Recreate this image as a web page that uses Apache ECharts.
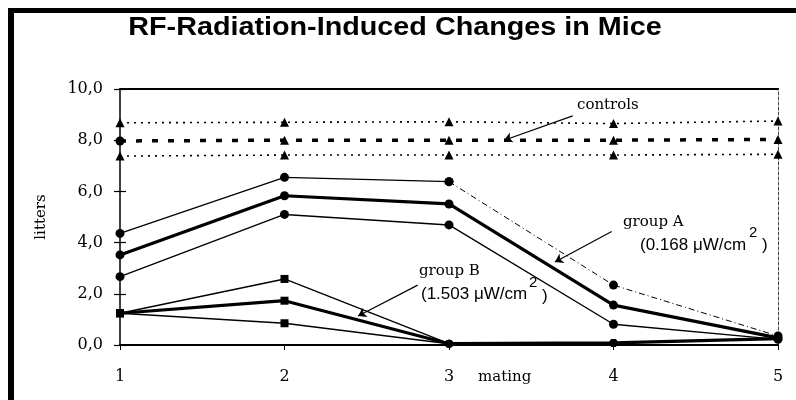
<!DOCTYPE html>
<html>
<head>
<meta charset="utf-8">
<script src="https://cdn.jsdelivr.net/npm/echarts@6/dist/echarts.min.js"></script>
<style>
  html, body { margin: 0; padding: 0; background: #fff; }
  #chart { width: 796px; height: 400px; }
</style>
</head>
<body>
<div id="chart"></div>
<script>
// Mating rounds (x axis)
const matings = [1, 2, 3, 4, 5];

// Control litters: upper bound, mean, lower bound
const controlUpper = [8.68, 8.70, 8.72, 8.65, 8.75];
const controlMean  = [7.97, 8.00, 8.00, 8.00, 8.03];
const controlLower = [7.38, 7.42, 7.42, 7.42, 7.45];

// Group A (0.168 µW/cm²): upper bound, mean, lower bound
const groupAUpper = [4.36, 6.55, 6.38, 2.34, 0.35];
const groupAMean  = [3.52, 5.83, 5.51, 1.56, 0.28];
const groupALower = [2.67, 5.10, 4.69, 0.81, 0.22];

// Group B (1.503 µW/cm²): upper bound, mean, lower bound
const groupBUpper = [1.24, 2.58, 0.05, 0.08, 0.25];
const groupBMean  = [1.24, 1.73, 0.05, 0.08, 0.25];
const groupBLower = [1.24, 0.85, 0.05, 0.08, 0.25];

const SERIF = '"DejaVu Serif", "Liberation Serif", serif';
const SANS = '"Liberation Sans", Arial, sans-serif';
const INK = '#000';

const pairs = vals => vals.map((v, i) => [matings[i], v]);
// keep only the points between two indices (inclusive) for split line styles
const slice = (vals, from, to) => vals.map((v, i) => (i >= from && i <= to) ? [matings[i], v] : [matings[i], null]);
// group B uses squares for the first two matings, dots afterwards
const bPoints = vals => vals.map((v, i) => ({ value: [matings[i], v], symbol: i < 2 ? 'rect' : 'circle' }));
// control mean starts with a dot, then triangles
const meanPoints = vals => vals.map((v, i) => ({ value: [matings[i], v], symbol: i === 0 ? 'circle' : 'triangle' }));

function line(name, data, width, type, symbol, size) {
  return {
    name, type: 'line', data,
    xAxisIndex: 0, yAxisIndex: 0,
    symbol, symbolSize: size, showSymbol: symbol !== 'none',
    connectNulls: false,
    lineStyle: { color: INK, width, type },
    itemStyle: { color: INK },
    z: 3,
    silent: true
  };
}

const arrowLine = (from, to) => [
  { coord: from, symbol: 'none' },
  { coord: to, symbol: 'arrow', symbolSize: 8 }
];

const label = (text, x, y, font, align) => ({
  type: 'text', x, y, silent: true,
  style: {
    text, font, fill: INK,
    textAlign: align || 'left', align: align || 'left',
    textVerticalAlign: 'middle', verticalAlign: 'middle'
  }
});

const chart = echarts.init(document.getElementById('chart'), null, { renderer: 'canvas' });

const option = {
  animation: false,
  backgroundColor: '#fff',
  grid: { left: 120, right: 18, top: 89, bottom: 55 },
  xAxis: [
    {
      type: 'value', min: 1, max: 5, interval: 1, position: 'bottom',
      axisLine: { show: true, onZero: false, lineStyle: { color: INK, width: 2 } },
      axisTick: { show: true, length: 5, lineStyle: { color: INK, width: 1 } },
      axisLabel: { color: INK, fontFamily: SERIF, fontSize: 16, margin: 24 },
      splitLine: { show: false }
    },
    {
      type: 'value', min: 1, max: 5, interval: 1, position: 'top',
      axisLine: { show: true, onZero: false, lineStyle: { color: INK, width: 2 } },
      axisTick: { show: false }, axisLabel: { show: false }, splitLine: { show: false }
    }
  ],
  yAxis: [
    {
      type: 'value', min: 0, max: 10, interval: 2, position: 'left',
      axisLine: { show: true, onZero: false, lineStyle: { color: INK, width: 1.5 } },
      axisTick: { show: true, length: 6, lineStyle: { color: INK, width: 1.2 } },
      axisLabel: {
        color: INK, fontFamily: SERIF, fontSize: 16, margin: 17,
        formatter: v => v.toFixed(1).replace('.', ',')
      },
      splitLine: { show: false }
    },
    {
      type: 'value', min: 0, max: 10, interval: 2, position: 'left',
      axisLine: { show: false },
      axisTick: { show: true, inside: true, length: 6, lineStyle: { color: INK, width: 1.2 } },
      axisLabel: { show: false }, splitLine: { show: false }
    },
    {
      type: 'value', min: 0, max: 10, interval: 2, position: 'right',
      axisLine: { show: true, onZero: false, lineStyle: { color: '#444', width: 1, type: [3, 2] } },
      axisTick: { show: false }, axisLabel: { show: false }, splitLine: { show: false }
    }
  ],
  series: [
    line('controls upper', pairs(controlUpper), 1.6, [2, 5], 'triangle', 9),
    Object.assign(line('controls', meanPoints(controlMean), 3.5, [6, 10], 'triangle', 9), {
      markLine: {
        silent: true,
        animation: false,
        symbolSize: 8,
        label: { show: false },
        lineStyle: { color: INK, width: 1.2, type: 'solid' },
        emphasis: { disabled: true },
        data: [
          arrowLine([3.752, 8.95], [3.335, 8.0]),
          arrowLine([3.989, 4.43], [3.644, 3.24]),
          arrowLine([2.810, 2.34], [2.447, 1.13])
        ]
      }
    }),
    line('controls lower', pairs(controlLower), 1.6, [2, 5], 'triangle', 9),

    line('group A upper', slice(groupAUpper, 0, 2), 1.3, 'solid', 'circle', 9),
    line('group A upper (late)', slice(groupAUpper, 2, 4), 1, [6, 3, 1, 3], 'circle', 9),
    line('group A', pairs(groupAMean), 3.2, 'solid', 'circle', 9),
    line('group A lower', pairs(groupALower), 1.4, 'solid', 'circle', 9),

    line('group B upper', bPoints(groupBUpper), 1.4, 'solid', 'rect', 8),
    line('group B', bPoints(groupBMean), 3.2, 'solid', 'rect', 8),
    line('group B lower', bPoints(groupBLower), 1.4, 'solid', 'rect', 8)
  ],
  graphic: [
    // page frame
    { type: 'rect', shape: { x: 8, y: 8, width: 788, height: 5 }, style: { fill: INK }, silent: true },
    { type: 'rect', shape: { x: 8, y: 8, width: 6, height: 392 }, style: { fill: INK }, silent: true },

    // title
    Object.assign(label('RF-Radiation-Induced Changes in Mice', 395, 28, 'bold 25px ' + SANS, 'center'), { scaleX: 1.15 }),

    // axis names
    Object.assign(label('litters', 41, 217, '15px ' + SERIF, 'center'), { rotation: Math.PI / 2 }),
    label('mating', 478, 377, '15px ' + SERIF),

    // annotations
    label('controls', 577, 105, '15px ' + SERIF),

    label('group A', 623, 222, '15px ' + SERIF),
    label('(0.168 \u03bcW/cm', 640, 245, '17px ' + SANS),
    label('2', 749, 233, '15px ' + SANS),
    label(')', 762, 245, '17px ' + SANS),

    label('group B', 419, 271, '15px ' + SERIF),
    label('(1.503 \u03bcW/cm', 421, 294, '17px ' + SANS),
    label('2', 529, 283, '15px ' + SANS),
    label(')', 542, 296, '17px ' + SANS)
  ]
};

chart.setOption(option);
</script>
</body>
</html>
